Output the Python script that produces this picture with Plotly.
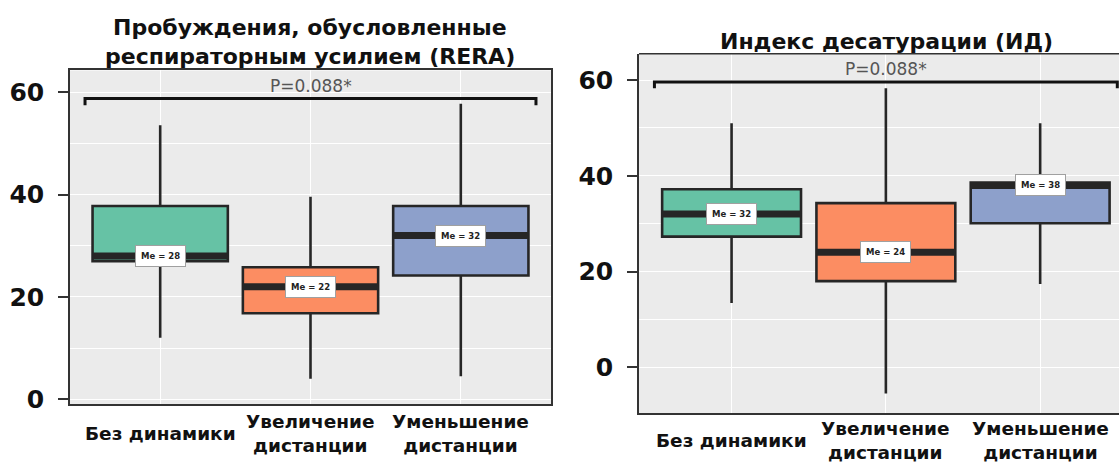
import plotly.graph_objects as go

# ---------------- data ----------------
categories = ["Без динамики", "Увеличение<br>дистанции", "Уменьшение<br>дистанции"]
box_colors = ["#66C2A5", "#FC8D62", "#8DA0CB"]

rera_lower = [12.0, 4.0, 4.5]
rera_q1 = [27.0, 16.8, 24.2]
rera_median = [28, 22, 32]
rera_q3 = [37.8, 25.8, 37.8]
rera_upper = [53.6, 39.6, 57.8]

od_lower = [13.4, -5.5, 17.4]
od_q1 = [27.3, 18.0, 30.1]
od_median = [32, 24, 38]
od_q3 = [37.2, 34.3, 38.6]
od_upper = [51.0, 58.3, 51.0]

titles = [["Пробуждения, обусловленные", "респираторным усилием (RERA)"],
          ["Индекс десатурации (ИД)"]]
p_texts = ["P=0.088*", "P=0.088*"]
bracket_levels = [58.8, 59.6]
y_ticks = [0, 20, 40, 60]

# ---------------- layout geometry ----------------
W, H = 1119, 475
FONT = "DejaVu Sans"
DARK = "#262626"

panels = [
    dict(xa="x", ya="y", xname="xaxis", yname="yaxis",
         xdom=[70 / W, 551 / W], ydom=[1 - 413 / H, 1 - 72 / H],
         xr=[-0.6, 2.6], yr=[-1.0, 64.3], mirror=True,
         lower=rera_lower, q1=rera_q1, med=rera_median, q3=rera_q3, upper=rera_upper,
         title_x=310 / W, title_y=[28, 58], cat_y=443),
    dict(xa="x2", ya="y2", xname="xaxis2", yname="yaxis2",
         xdom=[639 / W, 1.0], ydom=[1 - 422 / H, 1 - 55 / H],
         xr=[-0.6, 2.511], yr=[-9.6, 65.5], mirror=False,
         lower=od_lower, q1=od_q1, med=od_median, q3=od_q3, upper=od_upper,
         title_x=886 / W, title_y=[42], cat_y=450),
]

fig = go.Figure()
annotations = []
shapes = []
layout_axes = {}

for pi, p in enumerate(panels):
    n = len(categories)
    for i in range(n):
        fig.add_trace(go.Box(
            x=[i], q1=[p["q1"][i]], median=[p["med"][i]], q3=[p["q3"][i]],
            lowerfence=[p["lower"][i]], upperfence=[p["upper"][i]],
            width=0.9, fillcolor=box_colors[i],
            line=dict(color=DARK, width=2.6), whiskerwidth=0,
            boxpoints=False, showlegend=False, hoverinfo="skip",
            xaxis=p["xa"], yaxis=p["ya"]))
    # thick median bars
    mx, my = [], []
    for i in range(n):
        mx += [i - 0.45, i + 0.45, None]
        my += [p["med"][i], p["med"][i], None]
    fig.add_trace(go.Scatter(x=mx, y=my, mode="lines",
                             line=dict(color=DARK, width=7),
                             showlegend=False, hoverinfo="skip",
                             xaxis=p["xa"], yaxis=p["ya"]))
    # significance bracket
    b = bracket_levels[pi]
    fig.add_trace(go.Scatter(x=[-0.5, -0.5, n - 0.5, n - 0.5],
                             y=[b - 1.3, b, b, b - 1.3], mode="lines",
                             line=dict(color="#111111", width=3),
                             showlegend=False, hoverinfo="skip",
                             xaxis=p["xa"], yaxis=p["ya"]))
    annotations.append(dict(x=(n - 1) / 2, y=b, xref=p["xa"], yref=p["ya"],
                            text=p_texts[pi], showarrow=False, yanchor="bottom",
                            yshift=1, font=dict(family=FONT, size=17, color="#555555")))
    # median labels
    for i in range(n):
        annotations.append(dict(x=i, y=p["med"][i], xref=p["xa"], yref=p["ya"],
                                text=f"Me = {p['med'][i]}", showarrow=False,
                                bgcolor="white", bordercolor="#a0a0a0",
                                borderwidth=1, borderpad=5,
                                font=dict(family=FONT, size=8.5, color="#222222",
                                          weight="bold")))
    # category labels
    for i in range(n):
        annotations.append(dict(x=i, y=1 - p["cat_y"] / H, xref=p["xa"], yref="paper",
                                text=categories[i], showarrow=False, yanchor="middle",
                                font=dict(family=FONT, size=18.5, color="#111111",
                                          weight="bold")))
    # titles
    for k, line in enumerate(titles[pi]):
        annotations.append(dict(x=p["title_x"], y=1 - p["title_y"][k] / H,
                                xref="paper", yref="paper", text=line,
                                showarrow=False, yanchor="middle", xanchor="center",
                                font=dict(family=FONT, size=22, color="#111111",
                                          weight="bold")))
    layout_axes[p["xname"]] = dict(
        domain=p["xdom"], range=p["xr"], anchor=p["ya"],
        tickvals=list(range(n)), showticklabels=False, ticks="",
        showgrid=True, gridcolor="white", gridwidth=1.3, zeroline=False,
        showline=True, linecolor="#333333", linewidth=1.5, mirror=p["mirror"])
    layout_axes[p["yname"]] = dict(
        domain=p["ydom"], range=p["yr"], anchor=p["xa"],
        tickvals=y_ticks, ticks="outside", ticklen=10, tickwidth=2,
        tickcolor="#333333", ticklabelstandoff=9,
        tickfont=dict(family=FONT, size=25, color="#111111", weight="bold"),
        showgrid=True, gridcolor="white", gridwidth=1.3, zeroline=False,
        minor=dict(dtick=10, tick0=0, showgrid=True, gridcolor="white", gridwidth=0.6),
        showline=True, linecolor="#333333", linewidth=1.5, mirror=p["mirror"])
    if not p["mirror"]:
        shapes.append(dict(type="line", xref=p["xa"] + " domain", yref=p["ya"] + " domain",
                           x0=0, x1=1, y0=1, y1=1,
                           line=dict(color="#333333", width=1.5)))

fig.update_layout(
    width=W, height=H, margin=dict(l=0, r=0, t=0, b=0),
    paper_bgcolor="white", plot_bgcolor="#EBEBEB",
    boxmode="overlay", annotations=annotations, shapes=shapes,
    **layout_axes)

# remove the browser's default 8px body margin so the figure sits at the page origin
fig.write_html("out.html",
               config={"displayModeBar": False},
               post_script="document.body.style.margin='0';document.body.style.overflow='hidden';")
